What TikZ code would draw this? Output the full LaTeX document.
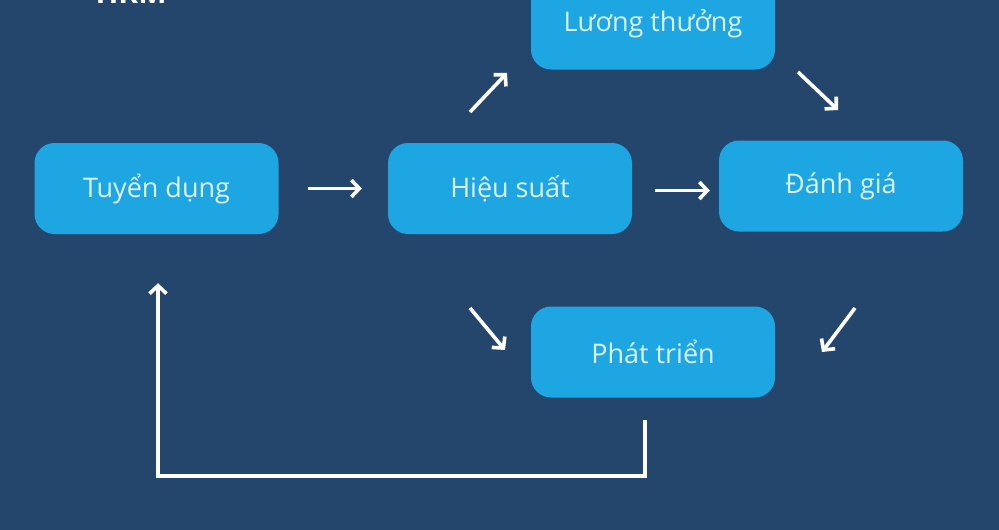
\documentclass[tikz,border=0pt]{standalone}
\usepackage{fontspec}
\setmainfont{Open Sans}
\usepackage{tikz}
\usetikzlibrary{arrows.meta,positioning,calc}
\definecolor{bgnavy}{HTML}{25466C}
\definecolor{stageblue}{HTML}{1DA6E1}
\definecolor{stagetext}{HTML}{DDF1FA}

\begin{document}
\begin{tikzpicture}[x=1pt, y=-1pt,
  stage/.style={rounded corners=20pt, fill=stageblue, text=stagetext,
    minimum width=244pt, minimum height=91pt, font=\fontsize{27}{30}\selectfont},
  flow/.style={draw=white, line width=3.6pt, -{Straight Barb[length=8pt,width=17pt]}}]
  \fill[bgnavy] (0,0) rectangle (999,530);
  \useasboundingbox (0,0) rectangle (999,530);

  \node[anchor=base west, text=white, font=\bfseries\fontsize{30}{32}\selectfont] (title) at (92,4) {HRM};

  \node[stage] (tuyen) at (156.5,188.5) {Tuyển dụng};
  \node[stage] (hieu) at (510,188.5) {Hiệu suất};
  \node[stage] (luong) at (653,24) {Lương thưởng};
  \node[stage] (danh) at (841,186) {Đánh giá};
  \node[stage] (phat) at (653,352) {Phát triển};

  % free arrows between the boxes
  \coordinate (hl1) at (470,112);
  \coordinate (hl2) at (507,73);
  \coordinate (ld1) at (798,72);
  \coordinate (ld2) at (838,110);
  \coordinate (hp1) at (470,308);
  \coordinate (hp2) at (505,350);
  \coordinate (dp1) at (855,308);
  \coordinate (dp2) at (822,352);

  \draw[flow, shorten <=29pt, shorten >=26pt] (tuyen.east) -- (hieu.west);
  \draw[flow, shorten <=23pt, shorten >=9pt] ([yshift=-2pt]hieu.east) -- ([yshift=-4.5pt]danh.west);
  \draw[flow] (hl1) -- (hl2);
  \draw[flow] (ld1) -- (ld2);
  \draw[flow] (hp1) -- (hp2);
  \draw[flow] (dp1) -- (dp2);
  \draw[flow, shorten <=22pt, shorten >=49pt] ([xshift=-8pt]phat.south) -- ++(0,78) -| ([xshift=1.5pt]tuyen.south);
\end{tikzpicture}
\end{document}
